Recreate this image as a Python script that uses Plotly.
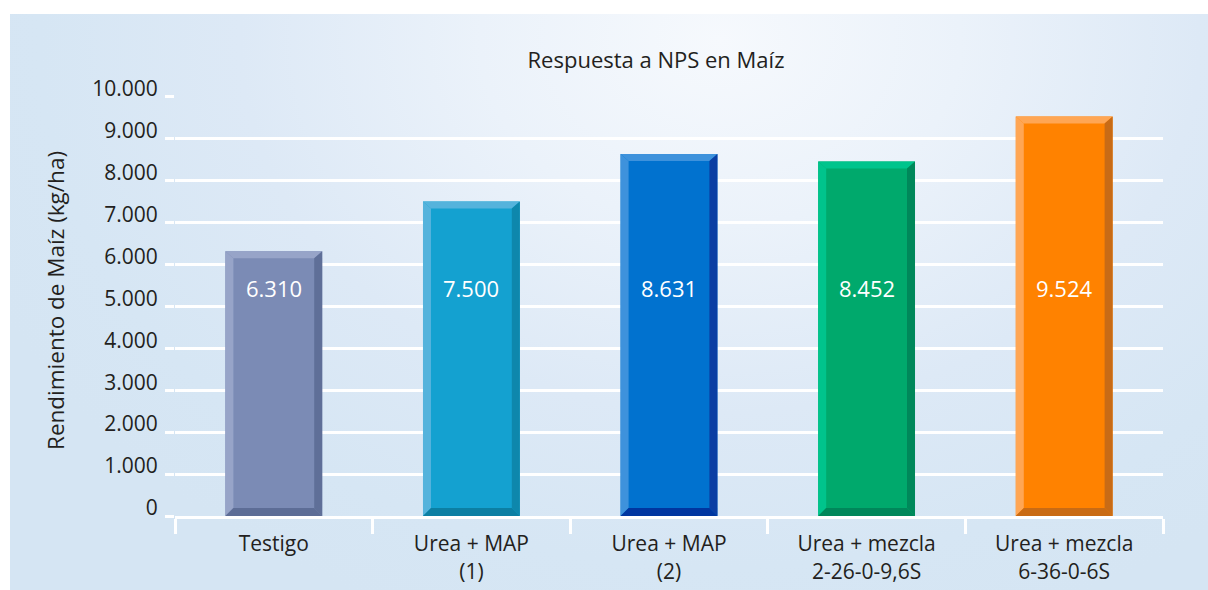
import plotly.graph_objects as go

# ---- data ----
CATEGORIES = ["Testigo", "Urea + MAP<br>(1)", "Urea + MAP<br>(2)",
              "Urea + mezcla<br>2-26-0-9,6S", "Urea + mezcla<br>6-36-0-6S"]
VALUES = [6310, 7500, 8631, 8452, 9524]
Y_TICKS = [0, 1000, 2000, 3000, 4000, 5000, 6000, 7000, 8000, 9000, 10000]

TITLE = "Respuesta a NPS en Maíz"
Y_TITLE = "Rendimiento de Maíz (kg/ha)"

# ---- styles ----
MAIN_COLORS = ["#7b8bb5", "#14a1d0", "#0172cf", "#00a96c", "#ff8200"]
LIGHT_COLORS = ["#97a4c8", "#55b3dc", "#3e92dc", "#00c48c", "#ffa654"]
RIGHT_COLORS = ["#5f6f98", "#0e87ac", "#0b3ea3", "#00885a", "#c86b16"]
BOTTOM_COLORS = ["#5d6d96", "#0c7fa3", "#0036a0", "#00875a", "#c96b14"]

W, H = 1208, 590
FONT = "Open Sans"
TEXT_COLOR = "#231f20"
BAR_WIDTH = 0.49
BEVEL_DX = 0.0405
BEVEL_DY_TOP = 167
BEVEL_DY_BOT = 190
LABEL_Y = 5430

px = lambda v: v / W
py = lambda v: 1 - v / H

fig = go.Figure()

# background glow (subplot xy, drawn first)
bg_x0, bg_y0 = 10, 14
cx = (720 - bg_x0) / (W - bg_x0)
cy = (H - 40) / (H - bg_y0)
rx = 800 / (W - bg_x0)
ry = 620 / (H - bg_y0)
fig.add_trace(go.Scatter(
    x=[cx - rx, cx + rx, cx + rx, cx - rx, cx - rx],
    y=[cy - ry, cy - ry, cy + ry, cy + ry, cy - ry],
    mode="lines", line=dict(width=0), fill="toself",
    fillgradient=dict(type="radial",
                      colorscale=[[0, "#f6f9fd"], [0.3, "#ebf2fa"], [0.6, "#dde9f6"],
                                  [0.85, "#d6e6f4"], [1, "#d5e5f3"]]),
    hoverinfo="skip", showlegend=False, xaxis="x", yaxis="y"))

# bars
fig.add_trace(go.Bar(
    x=CATEGORIES, y=VALUES, width=BAR_WIDTH,
    marker=dict(color=MAIN_COLORS, line=dict(width=0)),
    hoverinfo="x+y", showlegend=False, xaxis="x2", yaxis="y2"))

shapes = []
# plot-area fill
shapes.append(dict(type="rect", xref="x2 domain", yref="y2", x0=0, x1=1, y0=0, y1=9950,
                   fillcolor="#c8e1f3", line=dict(width=0), layer="below"))

hw = BAR_WIDTH / 2
for i, v in enumerate(VALUES):
    l, r = i - hw, i + hw
    il, ir = l + BEVEL_DX, r - BEVEL_DX
    it, ib = v - BEVEL_DY_TOP, BEVEL_DY_BOT
    polys = [
        ([(l, 0), (l, v), (il, it), (il, ib)], LIGHT_COLORS[i]),
        ([(l, v), (r, v), (ir, it), (il, it)], LIGHT_COLORS[i]),
        ([(r, 0), (r, v), (ir, it), (ir, ib)], RIGHT_COLORS[i]),
        ([(l, 0), (r, 0), (ir, ib), (il, ib)], BOTTOM_COLORS[i]),
    ]
    for pts, col in polys:
        path = "M " + " L ".join(f"{x},{y}" for x, y in pts) + " Z"
        shapes.append(dict(type="path", xref="x2", yref="y2", path=path,
                           fillcolor=col, line=dict(width=0), layer="above"))

annotations = []
for i, v in enumerate(VALUES):
    annotations.append(dict(x=i, y=LABEL_Y, xref="x2", yref="y2",
                            text=f"{v:,}".replace(",", "."), showarrow=False,
                            font=dict(family=FONT, size=22, color="white")))
annotations.append(dict(x=px(56), y=py(301), xref="paper", yref="paper",
                        xanchor="center", yanchor="middle",
                        text=Y_TITLE, textangle=-90, showarrow=False,
                        font=dict(family=FONT, size=22.5, color=TEXT_COLOR)))

fig.update_layout(
    width=W, height=H,
    margin=dict(l=0, r=0, t=0, b=0),
    paper_bgcolor="white",
    plot_bgcolor="rgba(0,0,0,0)",
    separators=",.",
    font=dict(family=FONT, size=21, color=TEXT_COLOR),
    title=dict(text=TITLE, x=px(656), y=py(60), xref="paper", yref="paper",
               xanchor="center", yanchor="middle",
               font=dict(family=FONT, size=22, color=TEXT_COLOR)),
    xaxis=dict(domain=[px(bg_x0), 1], range=[0, 1], visible=False, fixedrange=True),
    yaxis=dict(domain=[0, py(bg_y0)], range=[0, 1], visible=False, fixedrange=True),
    xaxis2=dict(domain=[px(175), px(1163)], anchor="y2", type="category",
                range=[-0.5, 4.5], tickson="boundaries", ticks="outside",
                ticklen=15, tickwidth=3, tickcolor="white",
                showline=True, linecolor="white", linewidth=3,
                showgrid=False, zeroline=False, automargin=False,
                ticklabelstandoff=7,
                tickfont=dict(family=FONT, size=21, color=TEXT_COLOR)),
    yaxis2=dict(domain=[py(516), py(96.5)], anchor="x2", range=[0, 10000],
                tickvals=Y_TICKS, tickformat=",d", ticks="outside",
                ticklen=9, tickwidth=3, tickcolor="white",
                showgrid=True, gridcolor="white", gridwidth=3,
                zeroline=False, showline=False, automargin=False,
                ticklabelshift=-8, ticklabelstandoff=3,
                tickfont=dict(family=FONT, size=21, color=TEXT_COLOR)),
    shapes=shapes,
    annotations=annotations,
    bargap=0.5,
)

fig.write_html("out.html", config={"displayModeBar": False},
               post_script="document.body.style.margin='0';document.body.style.overflow='hidden';")
